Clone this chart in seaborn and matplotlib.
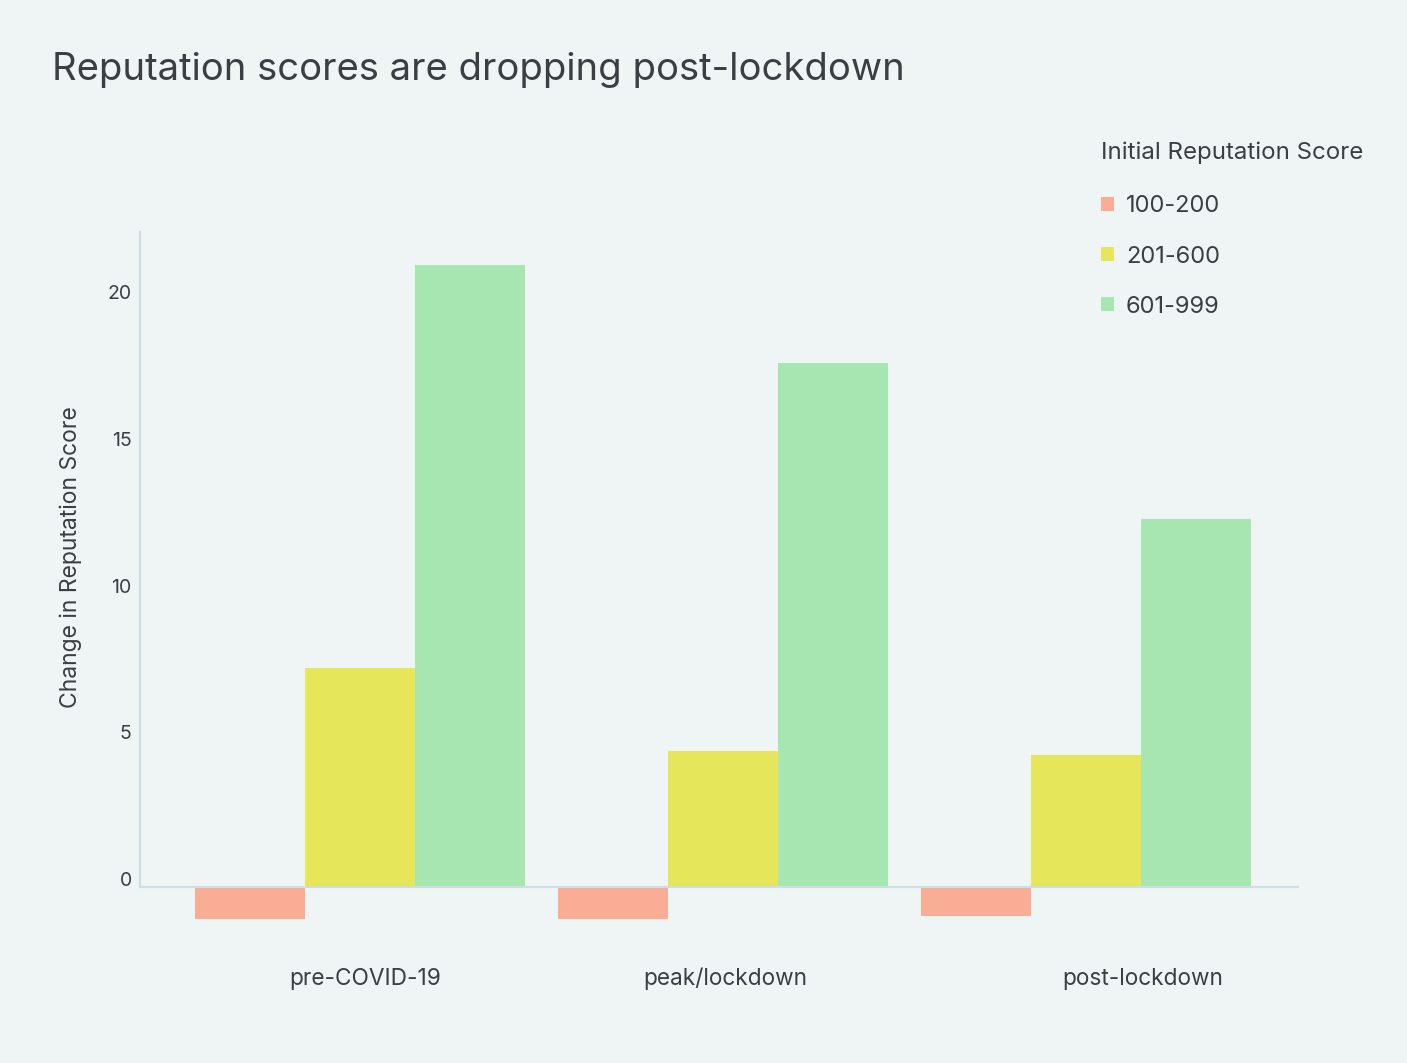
import numpy as np
import pandas as pd
import matplotlib
matplotlib.use("Agg")
import matplotlib.pyplot as plt
import matplotlib.transforms as mtransforms
import seaborn as sns

periods = ["pre-COVID-19", "peak/lockdown", "post-lockdown"]
groups = ["100-200", "201-600", "601-999"]
vals_100_200 = [-1.09, -1.09, -0.99]
vals_201_600 = [7.46, 4.63, 4.50]
vals_601_999 = [21.19, 17.85, 12.54]
yticks = [0, 5, 10, 15, 20]

df = pd.DataFrame({
    "period": periods * 3,
    "group": [groups[0]] * 3 + [groups[1]] * 3 + [groups[2]] * 3,
    "value": vals_100_200 + vals_201_600 + vals_601_999,
})

bg = "#eff5f5"
txt = "#3b3e43"
spine_c = "#d0dde1"
palette = ["#f9ad94", "#e5e65a", "#a7e6b0"]

sns.set_theme(style="white")
plt.rcParams["font.family"] = ["Inter", "DejaVu Sans"]

fig = plt.figure(figsize=(14.07, 10.63), dpi=100, facecolor=bg)
ax = fig.add_axes([140 / 1407, 1 - 887 / 1063, (1298 - 140) / 1407, (887 - 232) / 1063])
ax.set_facecolor(bg)

sns.barplot(data=df, x="period", y="value", hue="group", order=periods,
            hue_order=groups, palette=palette, width=0.909, saturation=1,
            errorbar=None, ax=ax, linewidth=0)
for p in ax.patches:
    p.set_clip_on(False)

ax.set_xlim(-0.606, 2.584)
ax.set_ylim(0, 22.32)
ax.set_yticks(yticks)
ax.set_yticklabels([str(t) for t in yticks])
for s in ["top", "right"]:
    ax.spines[s].set_visible(False)
for s in ["left", "bottom"]:
    ax.spines[s].set_color(spine_c)
    ax.spines[s].set_linewidth(1.5)
ax.tick_params(axis="y", length=0, pad=6, labelsize=14, labelcolor=txt)
ax.tick_params(axis="x", length=0, pad=58, labelsize=16.3, labelcolor=txt)
off = mtransforms.ScaledTranslation(0, 8 / 100, fig.dpi_scale_trans)
for lab in ax.get_yticklabels():
    lab.set_transform(lab.get_transform() + off)
# x label shifts to match the reference placement
xshift = [5, 2, 57]
for lab, dx in zip(ax.get_xticklabels(), xshift):
    lab.set_transform(lab.get_transform() + mtransforms.ScaledTranslation(dx / 100, 0, fig.dpi_scale_trans))

ax.set_xlabel("")
ax.set_ylabel("Change in Reputation Score", fontsize=16.5, color=txt)
ax.yaxis.set_label_coords(-0.050, (887 - 557) / 655)

fig.text(52 / 1407, 1 - 70 / 1063, "Reputation scores are dropping post-lockdown",
         fontsize=27.5, color=txt, va="center", ha="left")

handles, labels = ax.get_legend_handles_labels()
if ax.legend_:
    ax.legend_.remove()
leg = fig.legend(handles, labels, title="Initial Reputation Score",
                 loc="upper left", bbox_to_anchor=(1101 / 1407, 1 - 141 / 1063),
                 frameon=False, fontsize=17, title_fontsize=17.3,
                 handlelength=0.55, handleheight=0.55, handletextpad=0.5,
                 labelspacing=1.19, borderpad=0, borderaxespad=0, labelcolor=txt)
leg.get_title().set_color(txt)
leg._legend_box.align = "left"
leg._legend_box.sep = 23

fig.savefig("out.png", dpi=100, facecolor=bg)
